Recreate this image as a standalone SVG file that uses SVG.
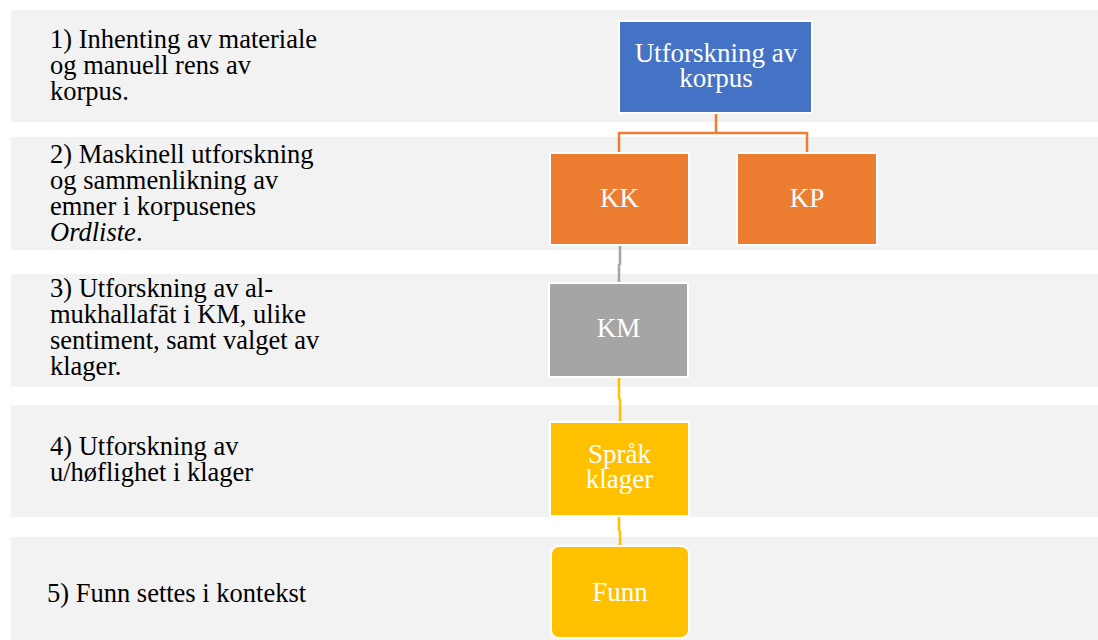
<svg xmlns="http://www.w3.org/2000/svg" width="1098" height="640" viewBox="0 0 1098 640">
<style>
.band{fill:#F2F2F2}
.lbl{font-family:"Liberation Serif","Times New Roman",serif;font-size:26.5px;fill:#000}
.nt{font-family:"Liberation Serif","Times New Roman",serif;font-size:27px;fill:#fff;text-anchor:middle}
.node{stroke:#fff;stroke-width:2}
.c{fill:none;stroke-width:2.5}
</style>
<rect width="1098" height="640" fill="#fff"/>
<g id="bands">
<rect class="band" x="11" y="10" width="1087" height="112"/>
<rect class="band" x="11" y="137" width="1087" height="113"/>
<rect class="band" x="11" y="274" width="1087" height="113"/>
<rect class="band" x="11" y="405" width="1087" height="112"/>
<rect class="band" x="11" y="537" width="1087" height="103"/>
</g>
<g id="labels">
<text class="lbl" x="50" y="48">1) Inhenting av materiale</text>
<text class="lbl" x="50" y="74">og manuell rens av</text>
<text class="lbl" x="50" y="100">korpus.</text>
<text class="lbl" x="50" y="163">2) Maskinell utforskning</text>
<text class="lbl" x="50" y="189">og sammenlikning av</text>
<text class="lbl" x="50" y="215">emner i korpusenes</text>
<text class="lbl" x="50" y="241"><tspan font-style="italic">Ordliste</tspan>.</text>
<text class="lbl" x="50" y="297">3) Utforskning av al-</text>
<text class="lbl" x="50" y="323">mukhallafāt i KM, ulike</text>
<text class="lbl" x="50" y="349">sentiment, samt valget av</text>
<text class="lbl" x="50" y="375">klager.</text>
<text class="lbl" x="50" y="455">4) Utforskning av</text>
<text class="lbl" x="50" y="481">u/høflighet i klager</text>
<text class="lbl" x="47" y="602">5) Funn settes i kontekst</text>
</g>
<g id="connectors">
<path class="c" stroke="#ED7D31" d="M716 113 V133 H619 V153 M716 133 H807 V153"/>
<path class="c" stroke="#A5A5A5" d="M620 245 V264 L619 265 V283"/>
<path class="c" stroke="#FFC000" d="M619 377 V398 L620 400 V422"/>
<path class="c" stroke="#FFC000" d="M619 516 V530 L620 532 V546"/>
</g>
<g id="n-corpus">
<rect class="node" x="619" y="21" width="193" height="92" fill="#4472C4"/>
<text class="nt" x="716" y="62">Utforskning av</text>
<text class="nt" x="716" y="87">korpus</text>
</g>
<g id="n-kk">
<rect class="node" x="550" y="153" width="139" height="92" fill="#ED7D31"/>
<text class="nt" x="619.5" y="207">KK</text>
</g>
<g id="n-kp">
<rect class="node" x="737" y="153" width="140" height="92" fill="#ED7D31"/>
<text class="nt" x="807" y="207">KP</text>
</g>
<g id="n-km">
<rect class="node" x="549" y="283" width="139" height="94" fill="#A5A5A5"/>
<text class="nt" x="618.5" y="337">KM</text>
</g>
<g id="n-sprak">
<rect class="node" x="550" y="422" width="139" height="94" fill="#FFC000"/>
<text class="nt" x="619.5" y="463">Språk</text>
<text class="nt" x="619.5" y="488">klager</text>
</g>
<g id="n-funn">
<rect class="node" x="551" y="546" width="138" height="92" rx="8" fill="#FFC000"/>
<text class="nt" x="620" y="601">Funn</text>
</g>
</svg>
